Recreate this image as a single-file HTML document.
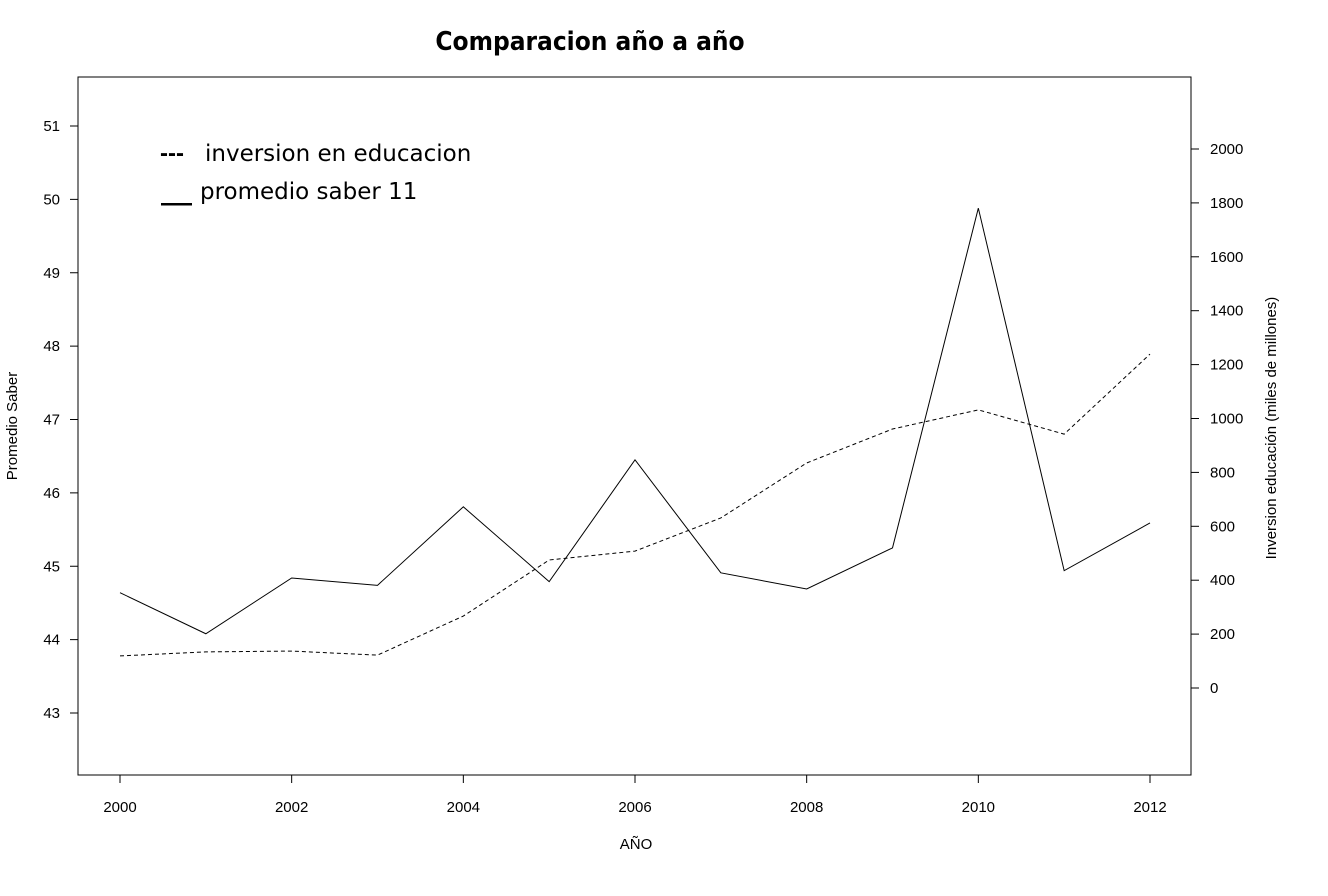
<!DOCTYPE html>
<html><head><meta charset="utf-8"><style>
body{margin:0;background:#fff;}
svg{display:block;font-family:"Liberation Sans",sans-serif;}
</style></head><body>
<svg id="c" width="1328" height="896">
<text x="590" y="50" text-anchor="middle" font-size="26" font-weight="bold" font-family="DejaVu Sans Condensed, DejaVu Sans, Liberation Sans, sans-serif">Comparacion año a año</text>
<rect x="78" y="77" width="1113" height="698" fill="none" stroke="#000" stroke-width="1"/>
<g id="axes"></g>
<g id="series"></g>
<g>
<text x="160" y="161" font-size="24" font-weight="bold">---</text>
<text x="205" y="161" font-size="23" font-family="DejaVu Sans, Liberation Sans, sans-serif">inversion en educacion</text>
<rect x="161" y="203" width="31" height="2.5" fill="#000"/>
<text x="200" y="199" font-size="23" font-family="DejaVu Sans, Liberation Sans, sans-serif">promedio saber 11</text>
</g>
<text x="636" y="849" text-anchor="middle" font-size="15">AÑO</text>
<text transform="translate(17,426) rotate(-90)" text-anchor="middle" font-size="15">Promedio Saber</text>
<text transform="translate(1276,428) rotate(-90)" text-anchor="middle" font-size="15">Inversion educación (miles de millones)</text>
</svg>
<script>
const years=[2000,2001,2002,2003,2004,2005,2006,2007,2008,2009,2010,2011,2012];
const saber=[44.64,44.08,44.84,44.74,45.81,44.79,46.45,44.91,44.69,45.25,49.88,44.94,45.59];
const inversion=[119,134,137,122,267,475,508,631,835,961,1032,942,1239];
const xTicks=[2000,2002,2004,2006,2008,2010,2012];
const leftTicks=[43,44,45,46,47,48,49,50,51];
const rightTicks=[0,200,400,600,800,1000,1200,1400,1600,1800,2000];
const NS="http://www.w3.org/2000/svg";
const X=v=>120+(v-2000)*(1150-120)/12;
const YL=v=>713-(v-43)*(713-126)/8;
const YR=v=>688-v*(688-149)/2000;
function mk(t,a,p){const e=document.createElementNS(NS,t);for(const k in a)e.setAttribute(k,a[k]);p.appendChild(e);return e;}
const ax=document.getElementById('axes');
xTicks.forEach(v=>{
const l=mk('line',{x1:X(v),x2:X(v),y1:775,y2:783,stroke:'#000'},ax);


const t=mk('text',{x:X(v),y:812,'text-anchor':'middle','font-size':15},ax);t.textContent=v;


});
leftTicks.forEach(v=>{
const l=mk('line',{x1:70,x2:78,y1:YL(v),y2:YL(v),stroke:'#000'},ax);


const t=mk('text',{x:60,y:YL(v)+5,'text-anchor':'end','font-size':15},ax);t.textContent=v;


});
rightTicks.forEach(v=>{
const l=mk('line',{x1:1191,x2:1199,y1:YR(v),y2:YR(v),stroke:'#000'},ax);


const t=mk('text',{x:1210,y:YR(v)+5,'font-size':15},ax);t.textContent=v;


});
const s=document.getElementById('series');
const p1=mk('polyline',{points:years.map((y,i)=>X(y)+','+YL(saber[i])).join(' '),fill:'none',stroke:'#000','stroke-width':1},s);


const p2=mk('polyline',{points:years.map((y,i)=>X(y)+','+YR(inversion[i])).join(' '),fill:'none',stroke:'#000','stroke-width':1,'stroke-dasharray':'4,3'},s);


</script>
</body></html>
